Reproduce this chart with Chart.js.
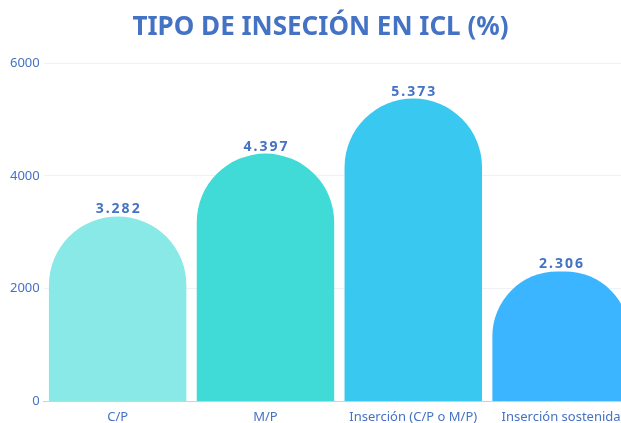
<!DOCTYPE html>
<html>
<head>
<meta charset="utf-8">
<script src="https://cdn.jsdelivr.net/npm/chart.js@4"></script>
<style>
    html, body { margin: 0; padding: 0; background: #fff; overflow: hidden; }
    #wrap { width: 647px; height: 423px; }
</style>
</head>
<body>
<div id="wrap"><canvas id="insercionChart"></canvas></div>
<script>
const categories = ['C/P', 'M/P', 'Inserción (C/P o M/P)', 'Inserción sostenida'];
const values = [3282, 4397, 5373, 2306];
const barColors = ['#89E9E7', '#40DBD7', '#38C8F0', '#3BB5FF'];
const yTicks = [0, 2000, 4000, 6000];

const blue = '#4472C4';

// draws the value above each bar, thousands with a dot
const valueLabels = {
    id: 'valueLabels',
    afterDatasetsDraw(chart) {
        const ctx = chart.ctx;
        const meta = chart.getDatasetMeta(0);
        ctx.save();
        ctx.font = 'bold 14px "Noto Sans"';
        ctx.fillStyle = blue;
        ctx.textAlign = 'center';
        ctx.textBaseline = 'alphabetic';
        ctx.letterSpacing = '2px';
        meta.data.forEach((bar, i) => {
            const txt = values[i].toLocaleString('de-DE');
            ctx.fillText(txt, bar.x + 1, bar.y - 3);
        });
        ctx.restore();
    }
};

new Chart(document.getElementById('insercionChart').getContext('2d'), {
    type: 'bar',
    data: {
        labels: categories,
        datasets: [{
            data: values,
            backgroundColor: barColors,
            borderRadius: 200,
            borderSkipped: 'start',
            categoryPercentage: 1,
            barPercentage: 0.93
        }]
    },
    options: {
        responsive: true,
        maintainAspectRatio: false,
        animation: false,
        layout: { padding: { left: 6, right: 12, top: 0, bottom: -2 } },
        scales: {
            x: {
                grid: { display: false },
                border: { color: '#C9D1E3' },
                ticks: { color: blue, font: { family: '"Noto Sans"', size: 13 }, padding: 0, maxRotation: 0, autoSkip: false }
            },
            y: {
                min: 0,
                max: 6000,
                afterBuildTicks: axis => { axis.ticks = yTicks.map(v => ({ value: v })); },
                grid: { color: '#EEF1F6', drawTicks: false },
                border: { display: false },
                ticks: { color: blue, font: { family: '"Noto Sans"', size: 13 }, padding: 4, callback: v => String(v) }
            }
        },
        plugins: {
            legend: { display: false },
            tooltip: { enabled: false },
            title: {
                display: true,
                text: 'TIPO DE INSECIÓN EN ICL (%)',
                color: blue,
                font: { family: '"Noto Sans"', size: 26, weight: 'bold' },
                padding: { top: 12, bottom: 20 }
            }
        }
    },
    plugins: [valueLabels]
});
</script>
</body>
</html>
